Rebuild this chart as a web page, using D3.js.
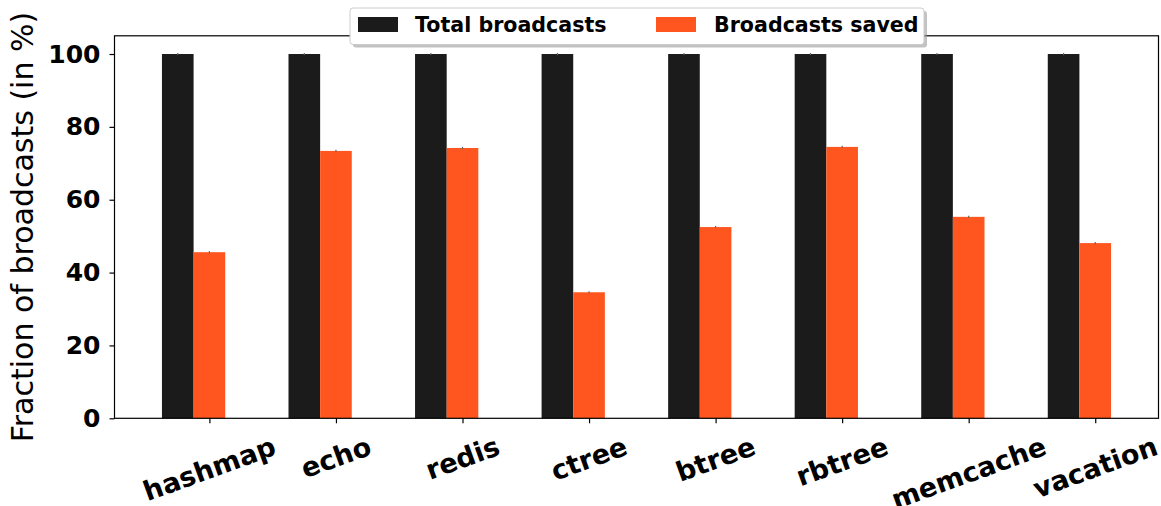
<!DOCTYPE html>
<html>
<head>
<meta charset="utf-8">
<script src="https://cdn.jsdelivr.net/npm/d3@7"></script>
<style>
  html, body { margin: 0; padding: 0; background: #fff; }
  svg { display: block; }
</style>
</head>
<body>
<div id="chart"></div>
<script>
// Benchmarks and broadcast fractions (percent)
const categories = ["hashmap", "echo", "redis", "ctree", "btree", "rbtree", "memcache", "vacation"];
const totalBroadcasts = [100, 100, 100, 100, 100, 100, 100, 100];
const totalErr = [0.3, 0.3, 0.3, 0.3, 0.3, 0.3, 0.3, 0.3];
const savedBroadcasts = [45.6, 73.4, 74.2, 34.6, 52.5, 74.5, 55.3, 48.1];
const savedErr = [0.3, 0.3, 0.3, 0.3, 0.3, 0.3, 0.3, 0.3];
const yTicks = [0, 20, 40, 60, 80, 100];
const seriesNames = ["Total broadcasts", "Broadcasts saved"];
const seriesColors = ["#1b1b1b", "#ff561f"];

const W = 1161, H = 506;
const barW = 0.25;

const svg = d3.select("#chart").append("svg")
  .attr("width", W).attr("height", H);

const x = d3.scaleLinear().domain([-0.5, categories.length - 0.25]).range([114.5, 1158.5]);
const y = d3.scaleLinear().domain([0, 105]).range([418.3, 35.8]);

const series = [
  { values: totalBroadcasts, err: totalErr, offset: 0 },
  { values: savedBroadcasts, err: savedErr, offset: barW }
];

// bars
series.forEach((s, k) => {
  const g = svg.append("g");
  g.selectAll("rect").data(s.values).join("rect")
    .attr("x", (d, i) => x(i + s.offset - barW / 2))
    .attr("width", x(barW) - x(0))
    .attr("y", d => y(d))
    .attr("height", d => y(0) - y(d))
    .attr("fill", seriesColors[k]);
  // small error bars
  g.selectAll("line").data(s.values).join("line")
    .attr("x1", (d, i) => x(i + s.offset))
    .attr("x2", (d, i) => x(i + s.offset))
    .attr("y1", (d, i) => y(d + s.err[i]))
    .attr("y2", (d, i) => y(d - s.err[i]))
    .attr("stroke", "#666")
    .attr("stroke-width", 1.2);
});

// axes frame
svg.append("rect")
  .attr("x", x.range()[0]).attr("y", y.range()[1])
  .attr("width", x.range()[1] - x.range()[0])
  .attr("height", y.range()[0] - y.range()[1])
  .attr("fill", "none").attr("stroke", "#000").attr("stroke-width", 1.2);

// y axis
const yAxis = d3.axisLeft(y).tickValues(yTicks).tickSize(5).tickPadding(9).tickFormat(d3.format("d"));
const gy = svg.append("g").attr("transform", `translate(${x.range()[0]},0)`).call(yAxis);
gy.select(".domain").remove();
gy.selectAll(".tick line").attr("stroke", "#000").attr("stroke-width", 1.2);
gy.selectAll(".tick text")
  .attr("font-family", "DejaVu Sans")
  .attr("font-weight", "bold")
  .attr("font-size", 25)
  .attr("fill", "#000");

// x axis
const xAxis = d3.axisBottom(x).tickValues(categories.map((c, i) => i + barW)).tickSize(5).tickFormat("");
const gx = svg.append("g").attr("transform", `translate(0,${y.range()[0]})`).call(xAxis);
gx.select(".domain").remove();
gx.selectAll(".tick line").attr("stroke", "#000").attr("stroke-width", 1.2);

// rotated category labels, centred under their ticks
const angle = 20 * Math.PI / 180;
const labelSize = 27;
const labelTop = y.range()[0] + 12;
const xLabels = svg.append("g");
categories.forEach((c, i) => {
  const t = xLabels.append("text")
    .text(c)
    .attr("font-family", "DejaVu Sans")
    .attr("font-weight", "bold")
    .attr("font-size", labelSize)
    .attr("fill", "#000")
    .attr("text-anchor", "middle")
    .attr("dominant-baseline", "central");
  const w = t.node().getComputedTextLength();
  const lineH = labelSize * 1.16;
  const bh = w * Math.sin(angle) + lineH * Math.cos(angle);
  const cx = x(i + barW), cy = labelTop + bh / 2;
  t.attr("x", cx).attr("y", cy)
   .attr("transform", `rotate(-20,${cx},${cy})`);
});

// y label, centred on the plot area
svg.append("text")
  .text("Fraction of broadcasts (in %)")
  .attr("font-family", "DejaVu Sans")
  .attr("font-size", 30)
  .attr("fill", "#000")
  .attr("text-anchor", "middle")
  .attr("transform", `translate(33,${(y.range()[0] + y.range()[1]) / 2}) rotate(-90)`);

// legend
const legend = svg.append("g");
const lx = 350, ly = 8, lw = 574, lh = 36.5;
legend.append("rect")
  .attr("x", lx + 3).attr("y", ly + 3).attr("width", lw).attr("height", lh)
  .attr("rx", 3).attr("fill", "#999").attr("opacity", 0.6);
legend.append("rect")
  .attr("x", lx).attr("y", ly).attr("width", lw).attr("height", lh)
  .attr("rx", 3).attr("fill", "#fff").attr("stroke", "#ccc").attr("stroke-width", 1);
const patchX = [358, 656], textX = [415, 714];
seriesNames.forEach((n, k) => {
  legend.append("rect")
    .attr("x", patchX[k]).attr("y", 17).attr("width", 40).attr("height", 15)
    .attr("fill", seriesColors[k]);
  legend.append("text")
    .text(n)
    .attr("x", textX[k]).attr("y", 32)
    .attr("font-family", "DejaVu Sans")
    .attr("font-weight", "bold")
    .attr("font-size", 20.6)
    .attr("fill", "#000");
});
</script>
</body>
</html>
